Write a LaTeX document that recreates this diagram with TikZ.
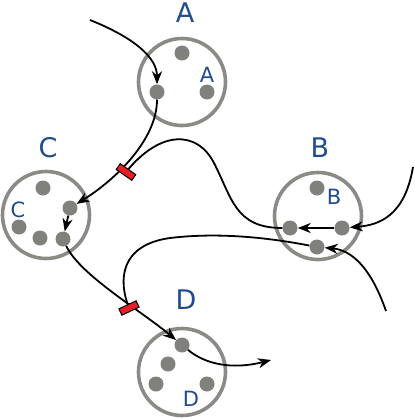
\documentclass[tikz,border=0pt]{standalone}
\usepackage{fontspec}
\newfontfamily\labfont{DejaVu Sans}
\usetikzlibrary{arrows.meta}
\definecolor{cgray}{RGB}{138,138,134}
\definecolor{dgray}{RGB}{128,128,124}
\definecolor{lblue}{RGB}{32,76,142}
\definecolor{mred}{RGB}{230,30,40}
\tikzset{
  cell/.style={circle, draw=cgray, line width=3.6pt, minimum size=87pt, inner sep=0pt},
  dot/.style={circle, fill=dgray, minimum size=15pt, inner sep=0pt},
  biglab/.style={text=lblue, font=\labfont\fontsize{27}{30}\selectfont, inner sep=0pt},
  smalllab/.style={text=lblue, font=\labfont\fontsize{21}{24}\selectfont, inner sep=0pt},
  flow/.style={draw=black, line width=1.8pt},
  tip/.style={-{Stealth[length=13pt, width=10pt, inset=4pt]}},
  block/.style={rectangle, draw=black, line width=1pt, fill=mred, minimum width=19pt, minimum height=7pt, inner sep=0pt}
}
\begin{document}
\begin{tikzpicture}[x=1pt, y=-1pt]
\useasboundingbox (0,0) rectangle (415,418);
% cells
\node[cell] (cA) at (182,82) {};
\node[cell] (cC) at (46,215) {};
\node[cell] (cB) at (318,216) {};
\node[cell] (cD) at (182,372) {};
% labels
\node[biglab] (lA) at (185,13) {A};
\node[biglab] (lC) at (48,148) {C};
\node[biglab] (lB) at (320,148) {B};
\node[biglab] (lD) at (186,300) {D};
\node[smalllab] (sA) at (207,75) {A};
\node[smalllab] (sC) at (18,210) {C};
\node[smalllab] (sB) at (334,197) {B};
\node[smalllab] (sD) at (191,399) {D};
% dots
\node[dot] (a1) at (182,53) {};
\node[dot] (a2) at (157,92) {};
\node[dot] (a3) at (207,92) {};
\node[dot] (c1) at (43,188) {};
\node[dot] (c2) at (70,208) {};
\node[dot] (c3) at (19,227) {};
\node[dot] (c4) at (40,238) {};
\node[dot] (c5) at (63,239) {};
\node[dot] (b1) at (317,188) {};
\node[dot] (b2) at (290,228) {};
\node[dot] (b3) at (342,228) {};
\node[dot] (b4) at (317,247) {};
\node[dot] (d1) at (182,345) {};
\node[dot] (d2) at (168,364) {};
\node[dot] (d3) at (156,384) {};
\node[dot] (d4) at (207,384) {};
% free ends
\coordinate (inA) at (90,20);
\coordinate (inB1) at (413,167);
\coordinate (inB2) at (386,311);
\coordinate (outD) at (271,360);
\coordinate (m1) at (126,172);
\coordinate (m2) at (129,308);
% connectors
\draw[flow, tip] (inA) .. controls (135,38) and (157,58) .. (a2);
\draw[flow, tip] (a2) .. controls (157,140) and (115,180) .. (c2);
\draw[flow, tip] (c2) -- (c5);
\draw[flow, tip] (c5) .. controls (80,275) and (140,310) .. (d1);
\draw[flow, tip] (d1) .. controls (210,368) and (240,368) .. (outD);
\draw[flow, tip] (inB1) .. controls (405,215) and (380,225) .. (b3);
\draw[flow, tip] (b3) -- (b2);
\draw[flow] (b2) .. controls (235,228) and (232,198) .. (214,163) .. controls (197,130) and (160,130) .. (m1);
\draw[flow, tip] (inB2) .. controls (370,265) and (350,250) .. (b4);
\draw[flow] (b4) .. controls (270,238) and (220,232) .. (170,238) .. controls (120,245) and (118,280) .. (m2);
% blocks
\node[block, rotate=-35] (k1) at (m1) {};
\node[block, rotate=25] (k2) at (m2) {};
\end{tikzpicture}
\end{document}
